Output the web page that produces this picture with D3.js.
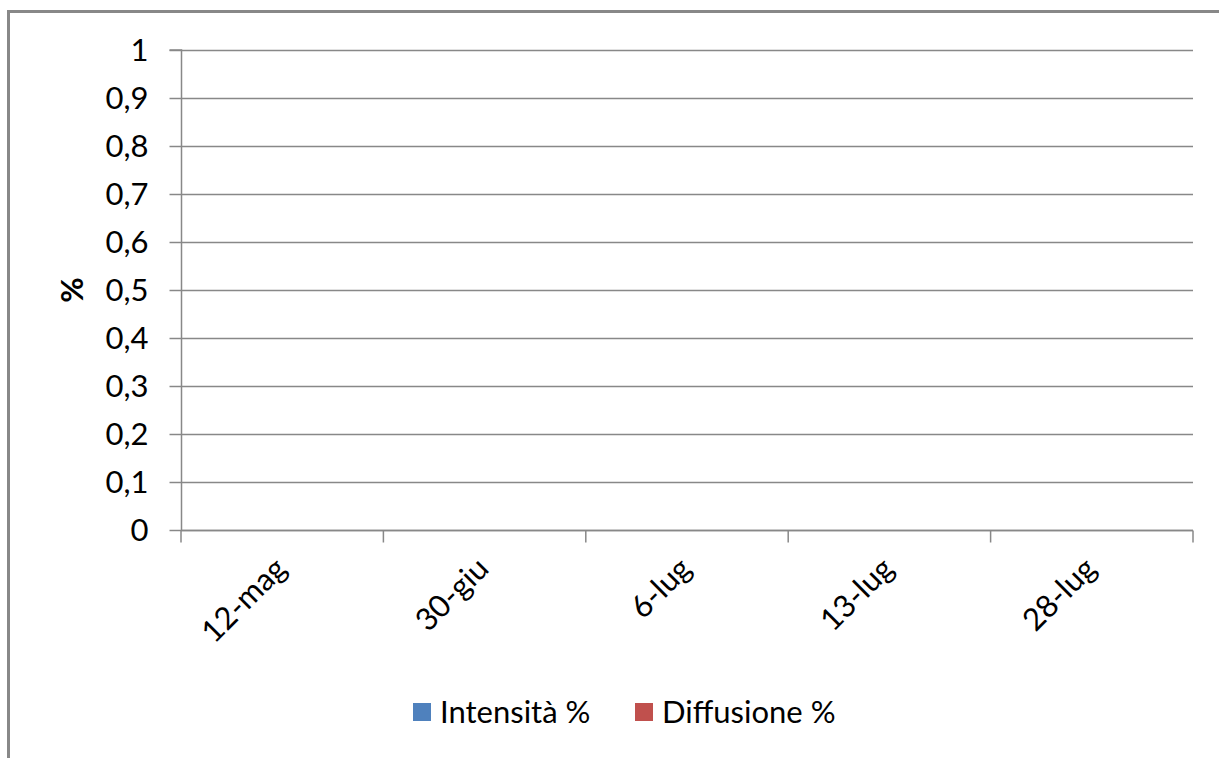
<!DOCTYPE html>
<html><head><meta charset="utf-8">
<script src="https://cdn.jsdelivr.net/npm/d3@7"></script>
<style>body{margin:0;background:#fff}svg{display:block}text{font-family:Lato,"Open Sans",sans-serif;fill:#000}</style>
</head><body><svg id="c" width="1219" height="758"></svg>
<script>
const categories = ["12-mag","30-giu","6-lug","13-lug","28-lug"];
const seriesNames = ["Intensità %","Diffusione %"];
const intensita = [0,0,0,0,0];
const diffusione = [0,0,0,0,0];
const yTicks = [0,0.1,0.2,0.3,0.4,0.5,0.6,0.7,0.8,0.9,1];
const colors = ["#4F81BD","#C0504D"];

const FS = 31;
const svg = d3.select("#c");
// outer frame
svg.append("path").attr("d","M8.5,770 V11.5 H1230").attr("fill","none").attr("stroke","#888").attr("stroke-width",3);

const L=181,R=1193,T=50,B=530;
const x = d3.scaleBand().domain(categories).range([L,R]);
const xs = d3.scaleBand().domain(seriesNames).range([0,x.bandwidth()]).paddingInner(0).paddingOuter(0.6);
const y = d3.scaleLinear().domain([0,1]).range([B,T]);

// gridlines
svg.append("g").selectAll("line").data(yTicks).join("line")
  .attr("x1",L).attr("x2",R).attr("y1",d=>Math.round(y(d))+0.5).attr("y2",d=>Math.round(y(d))+0.5)
  .attr("stroke","#888").attr("stroke-width",1.5);

// y axis
const ya = svg.append("g").attr("transform",`translate(${L+0.5},0)`)
  .call(d3.axisLeft(y).tickValues(yTicks).tickSize(12).tickPadding(21).tickFormat(d=>String(d).replace(".",",")));
ya.select(".domain").attr("stroke","#888").attr("stroke-width",1.5).attr("d",`M-12,${T}H0V${B}`);
ya.selectAll(".tick line").attr("stroke","#888").attr("stroke-width",1.5);
ya.selectAll(".tick text").attr("font-size",FS).attr("dy","0.35em").style("font-family","Lato, sans-serif");

// x axis
const xa = svg.append("g").attr("transform",`translate(0,${B+0.5})`);
xa.append("line").attr("x1",L).attr("x2",R).attr("stroke","#888").attr("stroke-width",1.5);
const bounds = categories.map(c=>x(c)).concat([R]);
xa.selectAll("line.t").data(bounds).join("line").attr("class","t")
  .attr("x1",d=>d).attr("x2",d=>d).attr("y1",0).attr("y2",12).attr("stroke","#888").attr("stroke-width",1.5);
xa.selectAll("text").data(categories).join("text")
  .attr("transform",d=>`translate(${x(d)+x.bandwidth()/2+6},${40}) rotate(-45)`)
  .attr("text-anchor","end").attr("font-size",FS).text(d=>d);

// bars (all zero)
const data = categories.map((c,i)=>({c,vals:[intensita[i],diffusione[i]]}));
svg.append("g").selectAll("g").data(data).join("g")
  .attr("transform",d=>`translate(${x(d.c)},0)`)
  .selectAll("rect").data(d=>d.vals.map((v,j)=>({v,j}))).join("rect")
  .attr("x",d=>xs(seriesNames[d.j])).attr("width",xs.bandwidth())
  .attr("y",d=>y(d.v)).attr("height",d=>B-y(d.v)).attr("fill",d=>colors[d.j]);

// y title
svg.append("text").attr("transform","translate(83,290) rotate(-90)").attr("text-anchor","middle")
  .attr("font-size",FS).attr("font-weight","bold").text("%");

// legend
const leg = [{x:413,tx:440},{x:635,tx:662}];
const lg = svg.append("g").selectAll("g").data(seriesNames).join("g");
lg.append("rect").attr("x",(d,i)=>leg[i].x).attr("y",703).attr("width",18).attr("height",18).attr("fill",(d,i)=>colors[i]);
lg.append("text").attr("x",(d,i)=>leg[i].tx).attr("y",723).attr("font-size",FS).text(d=>d);
</script></body></html>
